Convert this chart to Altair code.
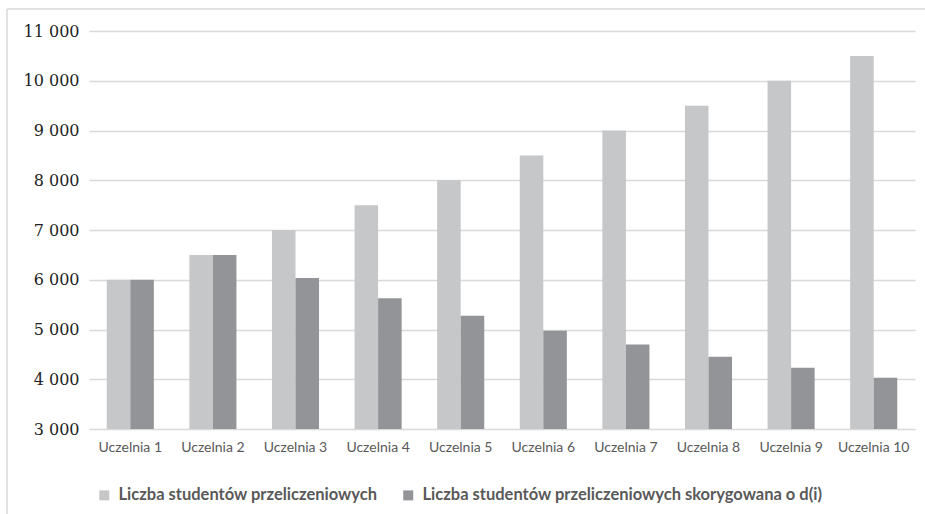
import altair as alt
import pandas as pd

categories = [f"Uczelnia {i}" for i in range(1, 11)]
series_names = [
    "Liczba studentów przeliczeniowych",
    "Liczba studentów przeliczeniowych skorygowana o d(i)",
]
values_raw = [6000, 6500, 7000, 7500, 8000, 8500, 9000, 9500, 10000, 10500]
values_adj = [6000, 6500, 6035, 5630, 5275, 4975, 4700, 4450, 4230, 4030]
y_ticks = [3000, 4000, 5000, 6000, 7000, 8000, 9000, 10000, 11000]
colors = ["#c6c7c9", "#939497"]

rows = []
for c, a, b in zip(categories, values_raw, values_adj):
    rows.append({"uczelnia": c, "seria": series_names[0], "wartosc": a})
    rows.append({"uczelnia": c, "seria": series_names[1], "wartosc": b})
df = pd.DataFrame(rows)

bars = alt.Chart(df).mark_bar(stroke=None).encode(
    x=alt.X(
        "uczelnia:N",
        sort=categories,
        title=None,
        scale=alt.Scale(paddingInner=0.43, paddingOuter=0.215),
        axis=alt.Axis(
            labelAngle=0,
            labelFont="Lato",
            labelFontSize=14,
            labelColor="#595959",
            labelPadding=11,
            ticks=False,
            domain=False,
            grid=False,
        ),
    ),
    xOffset=alt.XOffset("seria:N", sort=series_names, scale=alt.Scale(paddingInner=0, paddingOuter=0)),
    y=alt.Y(
        "wartosc:Q",
        title=None,
        scale=alt.Scale(domain=[3000, 11000], zero=False, nice=False),
        axis=alt.Axis(
            values=y_ticks,
            labelExpr="replace(format(datum.value, ','), ',', ' ')",
            labelFont="DejaVu Serif",
            labelFontSize=16,
            labelColor="#222222",
            labelPadding=10,
            ticks=False,
            domain=False,
            grid=True,
            gridColor="#d9d9d9",
            gridWidth=1.5,
        ),
    ),
    y2=alt.datum(3000),
    color=alt.Color(
        "seria:N",
        sort=series_names,
        scale=alt.Scale(domain=series_names, range=colors),
        legend=alt.Legend(
            title=None,
            orient="none",
            direction="horizontal",
            legendX=7,
            legendY=456,
            symbolType="square",
            symbolSize=100,
            symbolStrokeWidth=0,
            labelFont="Lato",
            labelFontWeight="bold",
            labelFontSize=16.5,
            labelColor="#595959",
            labelOffset=6,
            labelLimit=0,
            columnPadding=22,
        ),
    ),
)

frame_df = pd.DataFrame({"k": [0]})
frame_top = alt.Chart(frame_df).mark_rule(color="#d9d9d9", strokeWidth=1.5).encode(
    x=alt.value(-82), x2=alt.value(840), y=alt.value(-22)
)
frame_left = alt.Chart(frame_df).mark_rule(color="#d9d9d9", strokeWidth=1.5).encode(
    x=alt.value(-82), y=alt.value(-22), y2=alt.value(490)
)

chart = alt.layer(frame_top, frame_left, bars).properties(
    width=826,
    height=398,
    background="white",
    autosize=alt.AutoSizeParams(type="none"),
    padding={"left": 89, "top": 31, "right": 10, "bottom": 85},
).configure_view(stroke=None)

chart.save("out.html", embed_options={"renderer": "svg", "actions": False})
